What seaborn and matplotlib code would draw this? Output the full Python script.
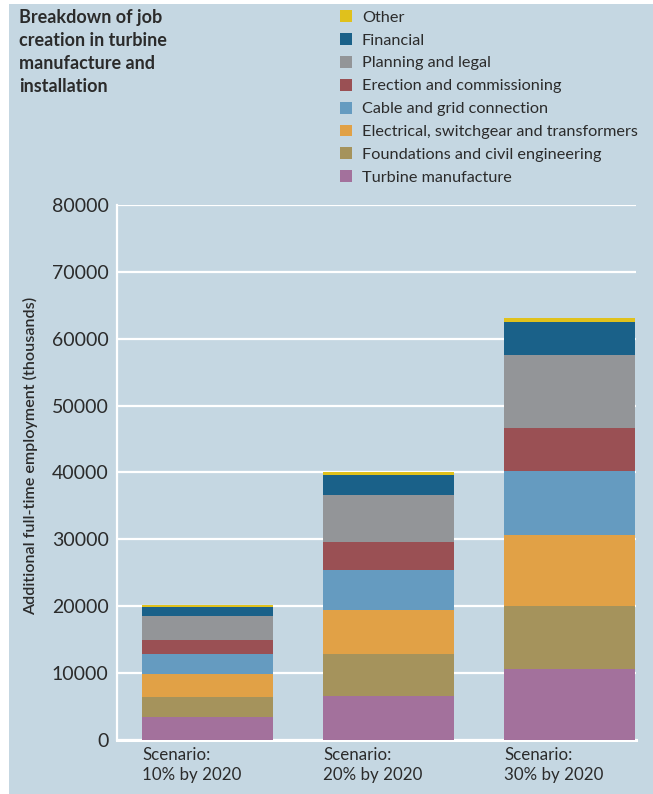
import matplotlib
matplotlib.use("Agg")
import matplotlib.pyplot as plt
from matplotlib.patches import Patch, Rectangle
import numpy as np
import pandas as pd
import seaborn as sns

# --- data (jobs per scenario, stacked bottom to top) ---
scenarios = ["Scenario:\n10% by 2020", "Scenario:\n20% by 2020", "Scenario:\n30% by 2020"]
turbine_manufacture = [3400, 6600, 10600]
foundations_civil = [3000, 6200, 9500]
electrical_switchgear = [3500, 6600, 10600]
cable_grid = [2900, 6000, 9500]
erection_commissioning = [2100, 4200, 6400]
planning_legal = [3600, 7000, 11000]
financial = [1450, 3100, 4900]
other = [300, 300, 600]

components = ["Turbine manufacture", "Foundations and civil engineering",
              "Electrical, switchgear and transformers", "Cable and grid connection",
              "Erection and commissioning", "Planning and legal", "Financial", "Other"]
series = [turbine_manufacture, foundations_civil, electrical_switchgear, cable_grid,
          erection_commissioning, planning_legal, financial, other]
colors = ["#a3719c", "#a5935c", "#e1a146", "#659bc0",
          "#9a5054", "#939598", "#1a6189", "#e0c11c"]

yticks = [0, 10000, 20000, 30000, 40000, 50000, 60000, 70000, 80000]

BG = "#c5d7e2"
TXT = "#2b2b2b"

sns.set_theme(style="white")
plt.rcParams["font.family"] = ["Lato", "DejaVu Sans"]

W, H = 653, 794
fig = plt.figure(figsize=(W / 100, H / 100), dpi=100, facecolor="white")
# panel background (white strip on the left and top)
fig.add_artist(Rectangle((9 / W, 0), 1, 1 - 4 / H, transform=fig.transFigure,
                         facecolor=BG, edgecolor="none", zorder=-10))

ax = fig.add_axes([117 / W, (H - 740) / H, (636 - 117) / W, (740 - 205) / H])
ax.set_facecolor(BG)

# long-form table with cumulative tops; draw tallest first so layers stack
rows = []
for comp, vals in zip(components, series):
    for scen, v in zip(scenarios, vals):
        rows.append({"scenario": scen, "component": comp, "value": v})
df = pd.DataFrame(rows)
df["top"] = df.groupby("scenario")["value"].cumsum()

for comp, col in reversed(list(zip(components, colors))):
    sub = df[df["component"] == comp]
    sns.barplot(data=sub, x="scenario", y="top", order=scenarios, color=col,
                width=0.724, saturation=1, edgecolor="none", linewidth=0, ax=ax, zorder=3)

ax.set_xlim(-0.5, 2.367)
ax.set_ylim(0, 80000)
ax.set_yticks(yticks)
ax.set_yticklabels([str(t) for t in yticks], fontsize=14, color=TXT)
ax.tick_params(axis="y", length=0, pad=6)
ax.grid(axis="y", color="white", linewidth=1.6, zorder=1)
ax.set_axisbelow(True)

for s in ["top", "right"]:
    ax.spines[s].set_visible(False)
ax.spines["left"].set_color("white")
ax.spines["left"].set_linewidth(1.6)
ax.spines["bottom"].set_color("white")
ax.spines["bottom"].set_linewidth(2.2)
ax.spines["left"].set_zorder(0)

# category labels, left-aligned at each bar's left edge
ax.set_xticks(range(len(scenarios)))
ax.set_xticklabels([])
ax.tick_params(axis="x", length=0)
ax.set_xlabel("")
for i, lab in enumerate(scenarios):
    ax.text(i - 0.724 / 2, -0.014, lab, transform=ax.get_xaxis_transform(),
            ha="left", va="top", fontsize=12.2, color=TXT, linespacing=1.3)

ax.set_ylabel("Additional full-time employment (thousands)", fontsize=11.6,
              color=TXT, fontweight="semibold")
ax.yaxis.set_label_coords(-0.152, 0.531)

# title block
fig.text(19 / W, 1 - 9 / H, "Breakdown of job\ncreation in turbine\nmanufacture and\ninstallation",
         ha="left", va="top", fontsize=13, fontweight="bold", color=TXT, linespacing=1.43)

# legend
handles = [Patch(facecolor=c, edgecolor="none", label=l)
           for l, c in reversed(list(zip(components, colors)))]
fig.legend(handles=handles, loc="upper left", bbox_to_anchor=(340 / W, 1 - 10 / H),
           frameon=False, fontsize=11.7, handlelength=0.75, handleheight=0.75,
           handletextpad=0.6, labelspacing=0.51, borderpad=0, borderaxespad=0,
           labelcolor=TXT)

fig.savefig("out.png", dpi=100, facecolor="white")
